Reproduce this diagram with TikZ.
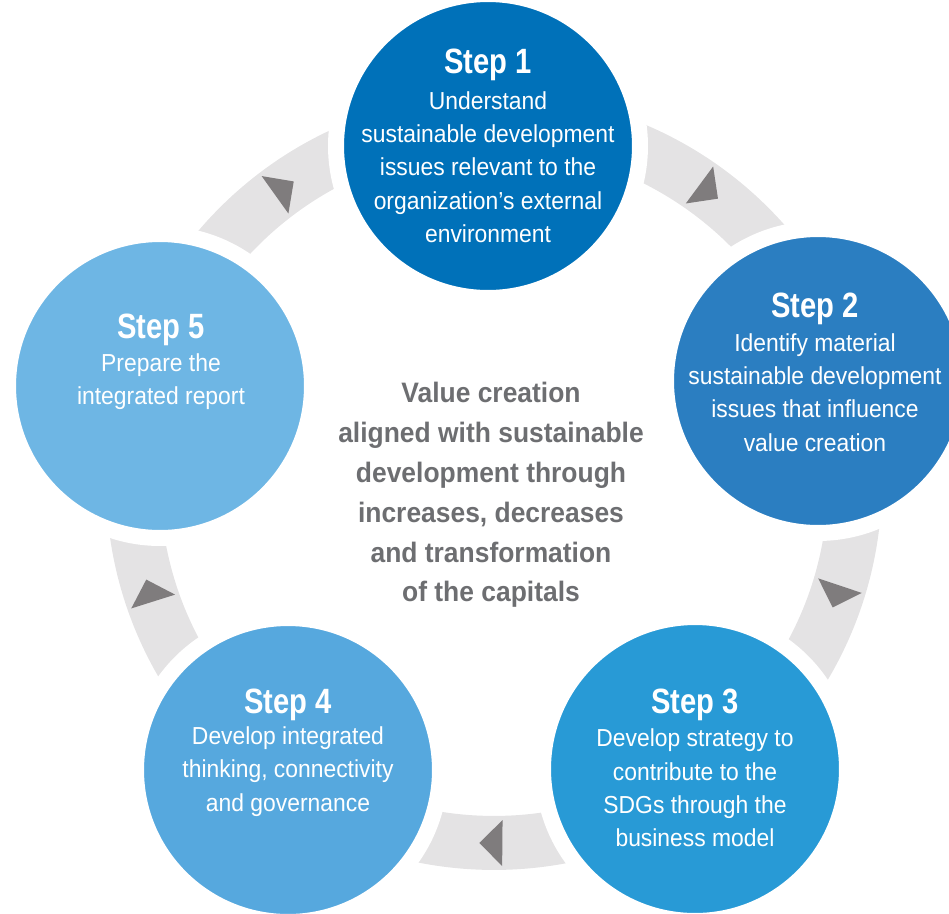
\documentclass[tikz,border=0pt]{standalone}
\usepackage{fontspec}
\setmainfont{Liberation Sans}
\newfontfamily\bodyfont[FakeStretch=0.93]{Liberation Sans}
\newfontfamily\headfont[FakeStretch=0.83]{Liberation Sans}
\newfontfamily\midfont[FakeStretch=0.94]{Liberation Sans}
\usetikzlibrary{positioning,calc}
\definecolor{stepone}{HTML}{0071B9}
\definecolor{steptwo}{HTML}{2B7EC1}
\definecolor{stepthree}{HTML}{289AD6}
\definecolor{stepfour}{HTML}{56A8DE}
\definecolor{stepfive}{HTML}{6EB6E4}
\definecolor{bandgray}{HTML}{E4E3E4}
\definecolor{arrowgray}{HTML}{7F7C7D}
\definecolor{midgray}{HTML}{6D6E71}

\begin{document}
\begin{tikzpicture}[x = 0.02cm, y = -0.02cm,
  stepdisc/.style = {circle, draw = white, line width = 0.32cm, minimum size = 6.08cm, inner sep = 0pt},
  steptitle/.style = {text = white, font = \headfont\bfseries\fontsize{20pt}{24pt}\selectfont, inner sep = 0pt},
  stepbody/.style = {text = white, align = center, font = \bodyfont\fontsize{14pt}{19pt}\selectfont, inner sep = 0pt},
  midtext/.style = {text = midgray, align = center, font = \midfont\bfseries\fontsize{16pt}{22.7pt}\selectfont, inner sep = 0pt}]
\useasboundingbox (0, 0) rectangle (949, 913);

% grey ring with the arrows
\coordinate (ring) at (494, 482);
\draw[bandgray, line width = 1.08cm] (ring) circle [radius = 7.22cm];
\foreach \a in {-53.5, 18.5, 90.5, 162.5, 234.5}
  \fill[arrowgray] ($(ring) + (\a:361) + (\a+90:11.5)$)
    -- ($(ring) + (\a:361) + (\a+90:-11.5) + (\a:23)$)
    -- ($(ring) + (\a:361) + (\a+90:-11.5) + (\a:-23)$) -- cycle;

% the five steps
\node[stepdisc, fill = stepone] (s1) at (488, 146) {};
\node[stepdisc, fill = steptwo] (s2) at (818, 381) {};
\node[stepdisc, fill = stepthree] (s3) at (695, 769) {};
\node[stepdisc, fill = stepfour] (s4) at (288, 770) {};
\node[stepdisc, fill = stepfive] (s5) at (160, 386) {};

\node[steptitle] (t1) at (488, 65) {Step 1};
\node[stepbody] (b1) at (488, 167) {Understand\\sustainable development\\issues relevant to the\\organization’s external\\environment};

\node[steptitle] (t2) at (815, 309) {Step 2};
\node[stepbody] (b2) at (815, 392.5) {Identify material\\sustainable development\\issues that influence\\value creation};

\node[steptitle] (t3) at (695, 705) {Step 3};
\node[stepbody] (b3) at (695, 788) {Develop strategy to\\contribute to the\\SDGs through the\\business model};

\node[steptitle] (t4) at (288, 705) {Step 4};
\node[stepbody] (b4) at (288, 771.5) {Develop integrated\\thinking, connectivity\\and governance};

\node[steptitle] (t5) at (161, 330) {Step 5};
\node[stepbody] (b5) at (161, 381.5) {Prepare the\\integrated report};

% centre text
\node[midtext] (value) at (491, 495) {Value creation\\aligned with sustainable\\development through\\increases, decreases\\and transformation\\of the capitals};

\end{tikzpicture}
\end{document}
